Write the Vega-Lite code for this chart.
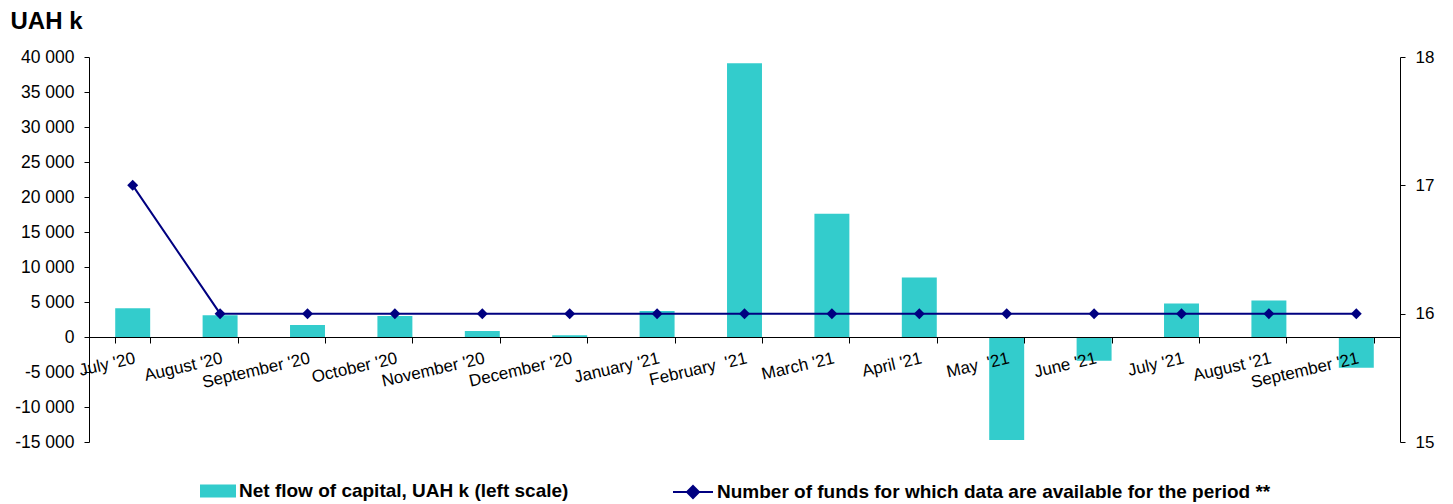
{
  "$schema": "https://vega.github.io/schema/vega-lite/v6.json",
  "width": 1311,
  "height": 385,
  "autosize": {"type": "none"},
  "padding": {"left": 89, "top": 57, "right": 53, "bottom": 62},
  "background": "white",
  "config": {
    "view": {"stroke": null},
    "font": "Liberation Sans",
    "axis": {"labelFont": "Liberation Sans", "labelColor": "#000", "domainColor": "#000", "tickColor": "#000", "grid": false, "labelFontSize": 17}
  },
  "data": {
    "values": [
      {"month": "July '20", "flow": 4100, "funds": 17},
      {"month": "August '20", "flow": 3100, "funds": 16},
      {"month": "September '20", "flow": 1700, "funds": 16},
      {"month": "October '20", "flow": 3000, "funds": 16},
      {"month": "November '20", "flow": 850, "funds": 16},
      {"month": "December '20", "flow": 250, "funds": 16},
      {"month": "January '21", "flow": 3700, "funds": 16},
      {"month": "February \u00a0'21", "flow": 39100, "funds": 16},
      {"month": "March '21", "flow": 17600, "funds": 16},
      {"month": "April '21", "flow": 8500, "funds": 16},
      {"month": "May \u00a0'21", "flow": -14700, "funds": 16},
      {"month": "June '21", "flow": -3400, "funds": 16},
      {"month": "July '21", "flow": 4800, "funds": 16},
      {"month": "August '21", "flow": 5200, "funds": 16},
      {"month": "September '21", "flow": -4400, "funds": 16}
    ]
  },
  "encoding": {
    "x": {
      "field": "month",
      "type": "ordinal",
      "sort": null,
      "scale": {"paddingInner": 0.6, "paddingOuter": 0.3},
      "axis": {
        "orient": "bottom",
        "offset": -105,
        "title": null,
        "labelAngle": -13,
        "labelAlign": "right",
        "labelBaseline": "top",
        "labelPadding": 7,
        "tickBand": "extent",
        "tickSize": 6,
        "labelOverlap": false,
        "labelBound": false,
        "labelFontSize": 17,
        "zindex": 1
      }
    }
  },
  "layer": [
    {
      "mark": {"type": "bar", "opacity": 1},
      "encoding": {
        "y": {
          "field": "flow",
          "type": "quantitative",
          "scale": {"domain": [-15000, 40000], "nice": false},
          "axis": {
            "orient": "left",
            "values": [-15000, -10000, -5000, 0, 5000, 10000, 15000, 20000, 25000, 30000, 35000, 40000],
            "labelExpr": "replace(replace(format(datum.value, ','), ',', ' '), '\u2212', '-')",
            "title": "UAH k",
            "titleAngle": 0,
            "titleX": -79,
            "titleY": -29,
            "titleAlign": "left",
            "titleBaseline": "alphabetic",
            "titleFontSize": 24,
            "titleFontWeight": "bold",
            "titleColor": "#000",
            "titleFont": "Liberation Sans",
            "labelPadding": 10,
            "labelFontSize": 17.5,
            "tickSize": 5
          }
        },
        "fill": {
          "datum": "Net flow of capital, UAH k (left scale)",
          "scale": {"range": ["#33CCCC"]},
          "legend": {
            "orient": "none",
            "legendX": 111,
            "legendY": 416,
            "title": null,
            "symbolType": "M-1,-0.36H1V0.36H-1Z",
            "symbolSize": 1296,
            "symbolStrokeWidth": 0,
            "labelFontSize": 19,
            "labelFontWeight": "bold",
            "labelFont": "Liberation Sans",
            "labelColor": "#000",
            "labelLimit": 800,
            "labelOffset": 3,
            "padding": 0
          }
        }
      }
    },
    {
      "encoding": {
        "y": {
          "field": "funds",
          "type": "quantitative",
          "scale": {"domain": [15, 18], "nice": false, "zero": false},
          "axis": {
            "orient": "right",
            "values": [15, 16, 17, 18],
            "title": null,
            "labelPadding": 10,
            "tickSize": 5
          }
        }
      },
      "layer": [
        {
          "mark": {"type": "line", "strokeWidth": 2},
          "encoding": {
            "stroke": {
              "datum": "Number of funds for which data are available for the period **",
              "scale": {"range": ["#000080"]},
              "legend": {
                "orient": "none",
                "legendX": 583,
                "legendY": 414,
                "title": null,
                "symbolType": "M-1,0H1M0,-0.3L0.3,0L0,0.3L-0.3,0Z",
                "symbolSize": 1600,
                "symbolStrokeWidth": 2,
                "symbolFillColor": "#000080",
                "labelFontSize": 19,
                "labelFontWeight": "bold",
                "labelFont": "Liberation Sans",
                "labelColor": "#000",
                "labelLimit": 900,
                "labelOffset": 3,
                "padding": 0,
                "encode": {"symbols": {"update": {"fill": {"value": "#000080"}, "stroke": {"value": "#000080"}, "strokeWidth": {"value": 2}}}}
              }
            }
          }
        },
        {
          "mark": {"type": "point", "shape": "diamond", "filled": true, "color": "#000080", "size": 120, "opacity": 1},
          "encoding": {}
        }
      ]
    }
  ],
  "resolve": {"scale": {"y": "independent"}}
}
